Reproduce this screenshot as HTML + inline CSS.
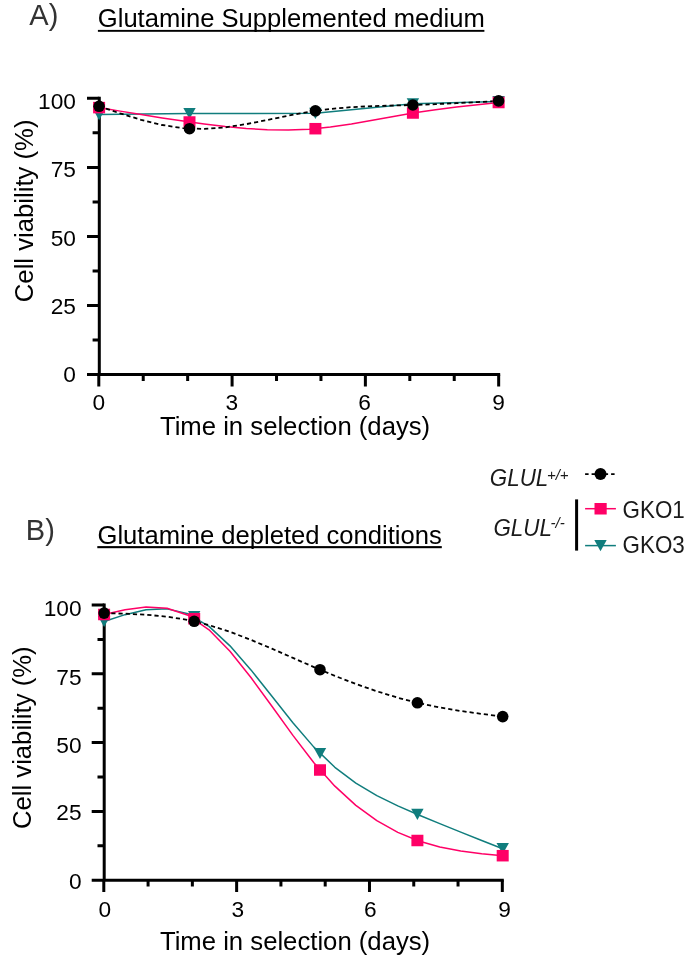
<!DOCTYPE html>
<html><head><meta charset="utf-8"><style>
html,body{margin:0;padding:0;background:#fff;}
svg{display:block;will-change:transform;}
text{font-family:"Liberation Sans",sans-serif;}
.tk{font-size:22.7px;fill:#000000;}
.ax{font-size:25.7px;fill:#000000;}
.tt{font-size:25.6px;fill:#000000;}
.pl{font-size:29px;fill:#333333;}
.lg{font-size:22.4px;fill:#1a1a1a;}
.sup{font-size:15px;fill:#1a1a1a;font-style:italic;}
</style></head><body>
<svg width="685" height="958" viewBox="0 0 685 958">
<rect width="685" height="958" fill="#fff"/>

<text x="29.3" y="24.5" class="pl">A)</text>
<text x="97.8" y="27.1" class="tt">Glutamine Supplemented medium</text>
<rect x="97.9" y="29.9" width="386.5" height="1.9" fill="#000"/>
<text x="25.8" y="539.6" class="pl">B)</text>
<text x="97.5" y="543.5" class="tt">Glutamine depleted conditions</text>
<rect x="97.3" y="546.1" width="344.5" height="2.1" fill="#000"/>

<path d="M99.3,96.80 V374.60 M97.80,374.60 H500.17" stroke="#000" stroke-width="3.0" fill="none"/>
<path d="M87.00,374.60 H99.3 M87.00,305.53 H99.3 M87.00,236.45 H99.3 M87.00,167.38 H99.3 M87.00,98.30 H99.3 M92.60,340.06 H99.3 M92.60,270.99 H99.3 M92.60,201.91 H99.3 M92.60,132.84 H99.3 M98.80,374.60 V386.50 M143.23,374.60 V381.00 M187.66,374.60 V381.00 M232.09,374.60 V386.50 M276.52,374.60 V381.00 M320.95,374.60 V381.00 M365.38,374.60 V386.50 M409.81,374.60 V381.00 M454.24,374.60 V381.00 M498.67,374.60 V386.50" stroke="#000" stroke-width="3.0" fill="none"/>
<text x="75.9" y="108.9" text-anchor="end" class="tk">100</text>
<text x="75.9" y="177.4" text-anchor="end" class="tk">75</text>
<text x="75.9" y="245.5" text-anchor="end" class="tk">50</text>
<text x="75.9" y="314.0" text-anchor="end" class="tk">25</text>
<text x="75.9" y="382.2" text-anchor="end" class="tk">0</text>
<text x="98.9" y="409.9" text-anchor="middle" class="tk">0</text>
<text x="231.7" y="409.9" text-anchor="middle" class="tk">3</text>
<text x="364.6" y="409.9" text-anchor="middle" class="tk">6</text>
<text x="498.5" y="409.9" text-anchor="middle" class="tk">9</text>
<text x="159.9" y="435.2" class="ax">Time in selection (days)</text>
<text transform="translate(32.9,302.2) rotate(-90)" class="ax">Cell viability (%)</text>
<path d="M99.10,114.60 L189.50,113.50 L315.40,113.30 L412.90,103.80 L498.60,101.60" stroke="#107D7D" stroke-width="1.5" fill="none" stroke-linejoin="round"/>
<path d="M99.10,107.60 L120.13,111.13 L141.15,114.59 L162.18,117.94 L183.21,121.10 L204.23,124.01 L225.26,126.53 L246.28,128.49 L267.31,129.70 L288.34,129.99 L309.36,129.17 L330.39,127.10 L351.42,123.99 L372.44,120.29 L393.47,116.39 L414.49,112.74 L435.52,109.64 L456.55,107.00 L477.57,104.67 L498.60,102.50" stroke="#FF0066" stroke-width="1.5" fill="none" stroke-linejoin="round"/>
<path d="M99.10,106.30 L120.13,113.39 L141.15,119.84 L162.18,125.00 L183.21,128.21 L204.23,128.92 L225.26,127.33 L246.28,124.13 L267.31,120.01 L288.34,115.65 L309.36,111.74 L330.39,108.91 L351.42,107.15 L372.44,106.14 L393.47,105.52 L414.49,104.95 L435.52,104.17 L456.55,103.19 L477.57,102.08 L498.60,100.90" stroke="#000000" stroke-width="1.8" stroke-dasharray="4.2 3" fill="none"/>
<path d="M92.90,109.00 L105.30,109.00 L99.10,120.20 Z" fill="#107D7D"/>
<path d="M183.30,107.90 L195.70,107.90 L189.50,119.10 Z" fill="#107D7D"/>
<path d="M309.20,107.70 L321.60,107.70 L315.40,118.90 Z" fill="#107D7D"/>
<path d="M406.70,98.20 L419.10,98.20 L412.90,109.40 Z" fill="#107D7D"/>
<path d="M492.40,96.00 L504.80,96.00 L498.60,107.20 Z" fill="#107D7D"/>
<rect x="93.10" y="101.85" width="12" height="11.5" fill="#FF0066"/>
<rect x="183.50" y="116.25" width="12" height="11.5" fill="#FF0066"/>
<rect x="309.40" y="122.95" width="12" height="11.5" fill="#FF0066"/>
<rect x="406.90" y="107.25" width="12" height="11.5" fill="#FF0066"/>
<rect x="492.60" y="96.75" width="12" height="11.5" fill="#FF0066"/>
<circle cx="99.10" cy="106.30" r="5.8" fill="#000000"/>
<circle cx="189.50" cy="128.70" r="5.8" fill="#000000"/>
<circle cx="315.40" cy="110.80" r="5.8" fill="#000000"/>
<circle cx="412.90" cy="105.00" r="5.8" fill="#000000"/>
<circle cx="498.60" cy="100.90" r="5.8" fill="#000000"/>
<path d="M104.2,603.50 V880.30 M102.70,880.30 H503.82" stroke="#000" stroke-width="3.0" fill="none"/>
<path d="M91.70,880.20 H104.2 M91.70,811.40 H104.2 M91.70,742.60 H104.2 M91.70,673.80 H104.2 M91.70,605.00 H104.2 M97.50,845.80 H104.2 M97.50,777.00 H104.2 M97.50,708.20 H104.2 M97.50,639.40 H104.2 M103.80,880.30 V892.00 M148.08,880.30 V886.50 M192.36,880.30 V886.50 M236.64,880.30 V892.00 M280.92,880.30 V886.50 M325.20,880.30 V886.50 M369.48,880.30 V892.00 M413.76,880.30 V886.50 M458.04,880.30 V886.50 M502.32,880.30 V892.00" stroke="#000" stroke-width="3.0" fill="none"/>
<text x="81.6" y="616.1" text-anchor="end" class="tk">100</text>
<text x="81.6" y="684.5" text-anchor="end" class="tk">75</text>
<text x="81.6" y="753.1" text-anchor="end" class="tk">50</text>
<text x="81.6" y="820.4" text-anchor="end" class="tk">25</text>
<text x="81.6" y="889.1" text-anchor="end" class="tk">0</text>
<text x="104.8" y="917.0" text-anchor="middle" class="tk">0</text>
<text x="237.8" y="917.0" text-anchor="middle" class="tk">3</text>
<text x="370.3" y="917.0" text-anchor="middle" class="tk">6</text>
<text x="504.6" y="917.0" text-anchor="middle" class="tk">9</text>
<text x="159.9" y="949.5" class="ax">Time in selection (days)</text>
<text transform="translate(31.1,829.1) rotate(-90)" class="ax">Cell viability (%)</text>
<path d="M104.10,621.50 L125.08,614.66 L146.06,609.79 L167.04,608.86 L188.02,613.82 L208.99,626.41 L229.97,645.84 L250.95,669.89 L271.93,696.28 L292.91,722.78 L313.89,747.13 L334.87,767.28 L355.85,783.11 L376.83,795.65 L397.81,805.93 L418.78,814.98 L439.76,823.64 L460.74,832.10 L481.72,840.43 L502.70,848.70" stroke="#107D7D" stroke-width="1.5" fill="none" stroke-linejoin="round"/>
<path d="M104.10,614.50 L125.08,609.78 L146.06,607.02 L167.04,608.18 L188.02,615.22 L208.99,629.85 L229.97,651.34 L250.95,677.55 L271.93,706.29 L292.91,735.40 L313.89,762.70 L334.87,786.17 L355.85,805.34 L376.83,820.59 L397.81,832.33 L418.78,840.98 L439.76,847.00 L460.74,851.01 L481.72,853.69 L502.70,855.70" stroke="#FF0066" stroke-width="1.5" fill="none" stroke-linejoin="round"/>
<path d="M104.10,613.10 L125.08,613.68 L146.06,614.72 L167.04,616.67 L188.02,619.99 L208.99,625.09 L229.97,631.85 L250.95,639.85 L271.93,648.68 L292.91,657.89 L313.89,667.09 L334.87,675.85 L355.85,683.96 L376.83,691.29 L397.81,697.72 L418.78,703.12 L439.76,707.47 L460.74,710.98 L481.72,713.93 L502.70,716.60" stroke="#000000" stroke-width="1.8" stroke-dasharray="4.2 3" fill="none"/>
<path d="M97.90,615.90 L110.30,615.90 L104.10,627.10 Z" fill="#107D7D"/>
<path d="M188.00,611.10 L200.40,611.10 L194.20,622.30 Z" fill="#107D7D"/>
<path d="M313.80,747.90 L326.20,747.90 L320.00,759.10 Z" fill="#107D7D"/>
<path d="M411.20,808.80 L423.60,808.80 L417.40,820.00 Z" fill="#107D7D"/>
<path d="M496.50,843.10 L508.90,843.10 L502.70,854.30 Z" fill="#107D7D"/>
<rect x="98.10" y="608.75" width="12" height="11.5" fill="#FF0066"/>
<rect x="188.20" y="612.95" width="12" height="11.5" fill="#FF0066"/>
<rect x="314.00" y="764.25" width="12" height="11.5" fill="#FF0066"/>
<rect x="411.40" y="834.75" width="12" height="11.5" fill="#FF0066"/>
<rect x="496.70" y="849.95" width="12" height="11.5" fill="#FF0066"/>
<circle cx="104.10" cy="613.10" r="5.8" fill="#000000"/>
<circle cx="194.20" cy="621.30" r="5.8" fill="#000000"/>
<circle cx="320.00" cy="669.70" r="5.8" fill="#000000"/>
<circle cx="417.40" cy="702.80" r="5.8" fill="#000000"/>
<circle cx="502.70" cy="716.60" r="5.8" fill="#000000"/>

<text transform="translate(489.8,486.2) scale(1,1.05)" class="lg"><tspan font-style="italic">GLUL</tspan></text>
<text x="546.9" y="480.4" class="sup">+/+</text>
<text transform="translate(493.4,535.5) scale(1,1.05)" class="lg"><tspan font-style="italic">GLUL</tspan></text>
<text x="550.6" y="527.8" class="sup">-/-</text>
<rect x="575.1" y="499.4" width="3" height="51.2" fill="#000"/>
<path d="M585.1,474.1 H615.9" stroke="#000" stroke-width="1.8" stroke-dasharray="3.5 3"/>
<circle cx="600.5" cy="474.1" r="6" fill="#000"/>
<path d="M585.1,508.7 H615.9" stroke="#FF0066" stroke-width="1.5"/>
<rect x="594.5" y="503.0" width="12.2" height="11.5" fill="#FF0066"/>
<path d="M585.1,545.6 H615.9" stroke="#107D7D" stroke-width="1.5"/>
<path d="M594.3,540.1 L606.7,540.1 L600.5,551.3 Z" fill="#107D7D"/>
<text transform="translate(622.6,517.6) scale(1,1.05)" class="lg">GKO1</text>
<text transform="translate(622.6,553.0) scale(1,1.05)" class="lg">GKO3</text>

</svg>
</body></html>
